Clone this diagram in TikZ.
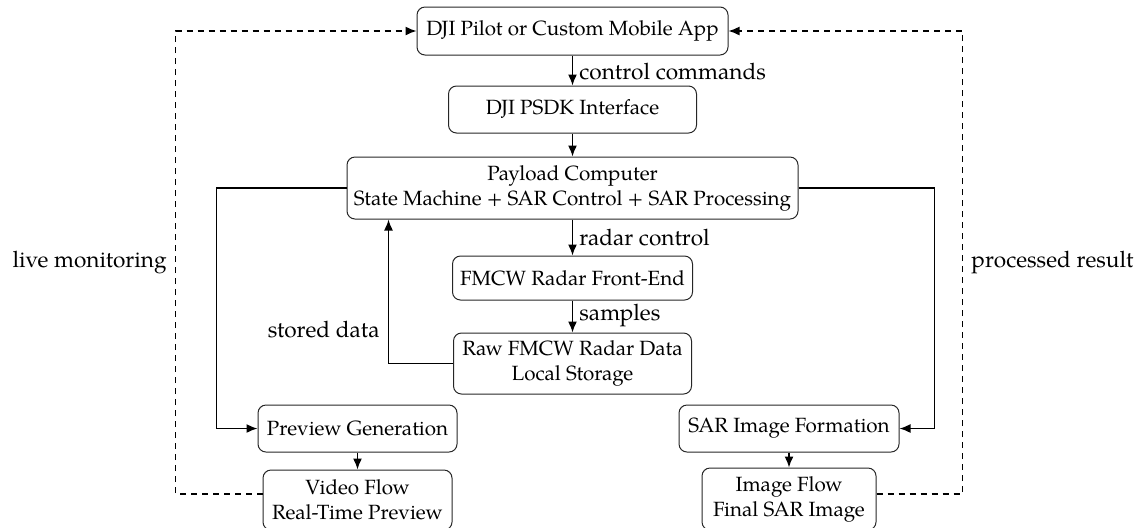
\documentclass[tikz,border=0pt]{standalone}
\usepackage{fontspec}
\setmainfont{TeX Gyre Pagella}
\usetikzlibrary{arrows.meta,calc}
\begin{document}
\begin{tikzpicture}[x=0.5pt,y=-0.5pt,
 box/.style={draw=black!85, rounded corners=4pt, align=center, inner sep=0pt, line width=0.5pt, font=\fontsize{10.3}{12.5}\selectfont},
 arr/.style={-{Latex[length=5.5pt,width=4.5pt]}, line width=0.75pt},
 dsh/.style={dash pattern=on 3pt off 2.5pt, line width=0.7pt, -{Latex[length=5.5pt,width=4.5pt]}},
 lbl/.style={font=\fontsize{11.3}{13.5}\selectfont, inner sep=0pt}]
\useasboundingbox (0,0) rectangle (1138,527);
\node[box, minimum width=155.5pt, minimum height=24pt] (app) at (572.5,31) {DJI Pilot or Custom Mobile App};
\node[box, minimum width=124pt, minimum height=23.5pt] (psdk) at (572.5,109.5) {DJI PSDK Interface};
\node[box, minimum width=225.5pt, minimum height=31pt] (pay) at (572.5,188) {Payload Computer\\State Machine + SAR Control + SAR Processing};
\node[box, minimum width=120pt, minimum height=22pt] (fmcw) at (572.5,278) {FMCW Radar Front-End};
\node[box, minimum width=119pt, minimum height=30.5pt] (raw) at (572.5,363.5) {Raw FMCW Radar Data\\Local Storage};
\node[box, minimum width=99.5pt, minimum height=23.5pt] (prev) at (357.5,428.5) {Preview Generation};
\node[box, minimum width=94.5pt, minimum height=30pt] (vid) at (357.5,500) {Video Flow\\Real-Time Preview};
\node[box, minimum width=110pt, minimum height=23.5pt] (sar) at (789,428.5) {SAR Image Formation};
\node[box, minimum width=87pt, minimum height=31pt] (img) at (789,499) {Image Flow\\Final SAR Image};

\draw[arr] (app.south) -- (psdk.north);
\draw[arr] (psdk.south) -- (pay.north);
\draw[arr] (pay.south) -- (fmcw.north);
\draw[arr] (fmcw.south) -- (raw.north);
\draw[arr] (prev.south) -- (vid.north);
\draw[arr] (sar.south) -- (img.north);
\draw[arr] (pay.west) -- ++(-130,0) |- (prev.west);
\draw[arr] (pay.east) -- ++(136,0) |- (sar.east);
\draw[arr] (raw.west) -| ([xshift=21pt]pay.south west);
\draw[dsh] ([yshift=3pt]vid.west) -- ++(-87,0) |- (app.west);
\draw[dsh] ([yshift=2.5pt]img.east) -- ++(86,0) |- (app.east);

\node[lbl, anchor=west] (lcc) at (579,72) {control commands};
\node[lbl, anchor=west] (lrc) at (579,238) {radar control};
\node[lbl, anchor=west] (lsm) at (579,315) {samples};
\node[lbl, anchor=east] (lsd) at (380,330) {stored data};
\node[lbl, anchor=east] (llm) at (167,262) {live monitoring};
\node[lbl, anchor=west] (lpr) at (971,262) {processed result};
\end{tikzpicture}
\end{document}
